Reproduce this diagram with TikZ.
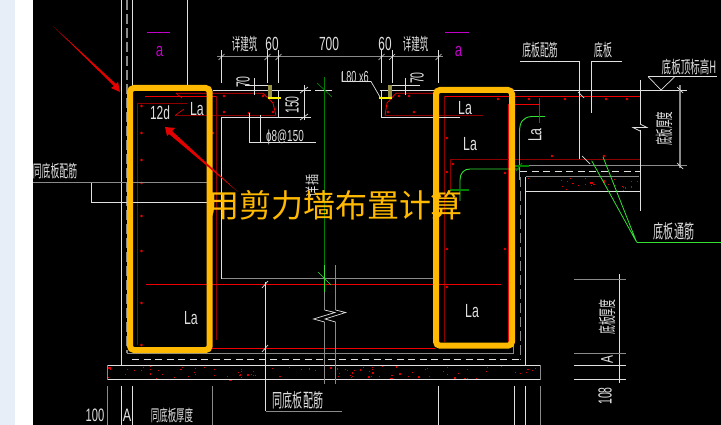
\documentclass[tikz,border=0pt]{standalone}
\usepackage{graphicx}
\usepackage{fontspec}
\setmainfont{Liberation Sans}
\newfontfamily\cjkf{Noto Sans CJK SC}
\newcommand{\nar}[2]{\scalebox{#1}[1]{#2}}
\newcommand{\fsz}[1]{\fontsize{#1}{#1}\selectfont}
\definecolor{wl}{HTML}{E0E0E0}
\definecolor{gl}{HTML}{8A8A8A}
\definecolor{dr}{HTML}{8E0000}
\definecolor{br}{HTML}{F00000}
\definecolor{dg}{HTML}{008000}
\definecolor{lg}{HTML}{33E033}
\definecolor{og}{HTML}{FFB900}
\definecolor{pale}{HTML}{E8EEF7}
\definecolor{mg}{HTML}{C000C8}
\tikzset{
  wline/.style={draw=wl,line width=.7pt},
  gline/.style={draw=gl,line width=1pt},
  dashw/.style={draw=wl,line width=.8pt,dash pattern=on 7pt off 4.5pt},
  dashg/.style={draw=gl,line width=1.1pt,dash pattern=on 10pt off 4pt},
  rline/.style={draw=br,line width=.8pt},
  drline/.style={draw=dr,line width=.9pt},
  grn/.style={draw=dg,line width=.9pt},
  lgrn/.style={draw=lg,line width=.8pt},
  lbl/.style={text=wl,inner sep=0pt,font=\cjkf\fsz{17}},
  lat/.style={text=wl,inner sep=0pt,font=\fsz{19}},
  rdot/.style={draw=br,line width=.5pt,fill=dr,radius=1.1pt},
  redarrow/.style={fill=red!90!black,draw=none}
}
\begin{document}
\begin{tikzpicture}[x=1pt,y=-1pt]
\useasboundingbox (0,0) rectangle (721,425);
\fill[white] (0,0) rectangle (721,425);
\fill[pale] (0,0) rectangle (15,425);
\fill[black] (33,0) rectangle (721,425);

% wall outlines, left
\draw[wline] (121.5,0) -- (121.5,365);
\draw[dashg] (127,0) -- (127,353);
\draw[wline] (132.5,0) -- (132.5,86);
\draw[wline] (187.5,0) -- (187.5,86);
\draw[draw=mg,line width=.8pt] (147,32.5) -- (170,32.5);
\draw[draw=mg,line width=.8pt] (445,32.5) -- (469,32.5);
\node[lat,text=mg] (amL) at (159.5,51) {\nar{.7}{a}};
\node[lat,text=mg] (amR) at (458.5,51) {\nar{.7}{a}};

% left reinforcement
\draw[rline] (145,96.5) -- (216,96.5);
\draw[rline] (176,93.3) -- (263,93.3) -- (273,103) -- (276,115.5);
\draw[drline] (216,96.5) -- (216,340);
\draw[drline] (187,103) -- (137.5,103) -- (137.5,345);
\draw[drline] (175,115.5) -- (276,115.5);
\draw[rline,line width=.6pt] (175,115.5) -- (184,109) (176,93.3) -- (182,98);
\foreach \py in {106,133,160,183,216,251,303,345} \draw[rdot] (141.5,\py) circle;
\foreach \px/\py in {224/96,263/96,224/112,249/113,273/112,213/133,213/170} \draw[rdot] (\px,\py) circle;

% right top bars
\draw[rline] (433,93.3) -- (396,93.3) -- (387,103) -- (385,115.5);
\draw[drline] (385,115.5) -- (483,115.5);
\draw[rline] (445,96.5) -- (640,96.5);
\draw[drline] (444,96.5) -- (444,342);
\draw[rline] (508.5,342) -- (508.5,104) -- (539,104);
\draw[drline] (450.7,190) -- (450.7,159.5) -- (640,159.5);
\foreach \px/\py in {498/99,529/99,565/99,606/99,627/99,552/156,604/156,453/164,447/138,447/172,447/249,447/287,505/173,505/249,399/96,388/112,414/112,409/96} \draw[rdot] (\px,\py) circle;

% inner outline
\draw[wline] (221.5,117) -- (221.5,278.7);
\draw[wline] (221.5,117) -- (278.3,117) -- (278.3,90);
\draw[wline] (460,117) -- (381.3,117) -- (381.3,90);
\draw[wline] (213,90) -- (311,90);
\draw[wline] (315,90) -- (332,90);
\draw[wline] (380,90) -- (687,90);
\draw[gline] (221.5,278.7) -- (433,278.7);
\draw[rline] (146,284.5) -- (501,284.5);
\draw[rline] (212,348) -- (435,348);
\draw[gline] (127,353.5) -- (513.5,353.5) -- (513.5,345);
\draw[dashw] (132,359.5) -- (520,359.5);
\draw[dashg,line width=.9pt] (520,177) -- (520,360);
\draw[wline] (525.5,177) -- (525.5,365);

% slab
\begin{scope}
\pgfmathsetseed{11}
\foreach \i in {1,...,95}{
  \pgfmathsetmacro\px{108+431*rnd}
  \pgfmathsetmacro\py{366+13*rnd}
  \pgfmathsetmacro\ps{.7+2*rnd*rnd}
  \fill[red!85!black] (\px,\py) rectangle ++(\ps,\ps);
}
\foreach \i in {1,...,24}{
  \pgfmathsetmacro\px{527+112*rnd}
  \pgfmathsetmacro\py{178+12*rnd}
  \pgfmathsetmacro\ps{.7+2*rnd*rnd}
  \fill[red!85!black] (\px,\py) rectangle ++(\ps,\ps);
}
\end{scope}
\draw[wline,line width=.9pt] (107,365) -- (540,365) (107,379.5) -- (540,379.5);
\draw[gline] (107,365) -- (107,379.5) (540,365) -- (540,379.5);
\draw[gline] (525.5,177) -- (639,177);
\draw[wline,line width=.9pt] (525.5,191) -- (640,191);
\draw[dashw] (520,171) -- (640,171);
\draw[gline] (517,166) -- (687,166);

% bottom verticals
\foreach \px/\cl in {107/gl,121.5/wl,132.5/wl,212/gl,438.5/wl,514.5/wl,525.5/wl,540/gl}
  \draw[draw=\cl,line width=.8pt] (\px,386) -- (\px,425);
\node[lat,font=\fsz{18}] (t100) at (95,415.5) {\nar{.62}{100}};
\node[lat,font=\fsz{18}] (tA) at (127,415.5) {\nar{.7}{A}};
\node[lbl,font=\cjkf\fsz{16}] (thick) at (172,415.5) {\nar{.53}{同底板厚度}};

% centre break
\draw[grn] (324.5,77) -- (324.5,265);
\draw[lgrn] (324.5,265) -- (324.5,292);
\draw[lgrn,line width=.7pt] (318,272) -- (331,285);
\draw[grn,line width=.7pt] (317,83) -- (332,97);
\draw[draw=gl,line width=.8pt] (324.5,292) -- (324.5,310) (324.5,322) -- (324.5,384);
\draw[draw=gl,line width=.8pt] (335.5,265) -- (335.5,310) (335.5,322) -- (335.5,384);
\draw[wline] (324.5,310) -- (335,312.5) -- (313.5,319) -- (324.5,322);
\draw[wline] (335.5,310) -- (345.7,312.5) -- (325,319) -- (335.5,322);

% dimensions top
\draw[gline] (217,57) -- (443,57);
\foreach \px in {221.5,267.5,278.5,381.5,392,438.5}{
  \draw[wline] (\px,50) -- (\px,83);
  \draw[wline] (\px-3,60) -- (\px+3,54);
}
\node[lbl] (xjz1) at (244.5,43.5) {\nar{.5}{详建筑}};
\node[lat] (d60a) at (272,44) {\nar{.62}{60}};
\node[lat] (d700) at (329,44) {\nar{.63}{700}};
\node[lat] (d60b) at (385,44) {\nar{.62}{60}};
\node[lbl] (xjz2) at (415.5,43.5) {\nar{.5}{详建筑}};

% small dims at angles
\draw[wline] (245,85.5) -- (270,85.5) (254.5,78) -- (254.5,95);
\draw[wline] (391,85.5) -- (420,85.5) (405.5,78) -- (405.5,95);
\node[lat,rotate=90] (d70a) at (243,82) {\nar{.55}{70}};
\node[lat,rotate=90] (d70b) at (417,78) {\nar{.55}{70}};
\draw[wline] (304,85) -- (304,120) (278,117) -- (311,117);
\draw[wline] (300,93) -- (308,87) (300,120) -- (308,114);
\node[lat,rotate=90] (d150) at (292,105) {\nar{.55}{150}};
\draw[wline] (249,113) -- (249,142) -- (316,142);
\draw[wline] (260.5,115.5) -- (260.5,142);
\node[lat,font=\fsz{16}] (phi8) at (285,137) {\nar{.62}{ɸ8@150}};
\node[lat,font=\fsz{16}] (l80) at (355,76.7) {\nar{.57}{L80 x6}};
\draw[wline] (342,72) -- (342,81.5) -- (371,81.5) -- (380,97);
\fill[yellow!55!black] (267.5,85) rectangle (271.5,97);
\draw[draw=yellow,line width=1.6pt] (268,98) -- (281,98);
\fill[yellow!55!black] (388,85) rectangle (392,97);
\draw[draw=yellow,line width=1.6pt] (392,98) -- (379,98);

% right annotations
\node[lbl] (t1) at (540,50) {\nar{.52}{底板配筋}};
\draw[wline] (520,61) -- (579.5,61) -- (579.5,159);
\node[lbl] (t2) at (603,50) {\nar{.53}{底板}};
\draw[wline] (622,61) -- (591.5,61) -- (591.5,113.5);
\node[lbl] (t3) at (689,67.5) {\nar{.56}{底板顶标高H}};
\draw[wline] (648,76.5) -- (717,76.5);
\draw[wline] (648,76.5) -- (661,90) -- (675,76.5);
\draw[wline] (640,80) -- (640,124) (640,130) -- (640,211);
\draw[wline] (640,124) -- (647,127.5) -- (633,127.5) -- (640,131);
\draw[gline,line width=1.2pt] (680,85) -- (680,168);
\draw[wline] (677,87) -- (683,93) (677,163) -- (683,169) (578,92) -- (584,98) (582,156) -- (590,164);
\node[lbl,rotate=90,font=\cjkf\fsz{18}] (t4) at (664,129) {\nar{.47}{底板厚度}};
\draw[lgrn,line width=.9pt] (519.5,180) -- (519.5,132) .. controls (519.5,122) and (523,117) .. (532,116.5) -- (545,116.5);
\draw[grn] (539,98) -- (539,123);
\draw[lgrn,line width=.9pt] (460,201) -- (460,180) .. controls (460,173) and (464,169) .. (470,169) -- (520,169);
\draw[grn,line width=1.2pt] (515,166) -- (529,166);
\draw[grn,line width=1.2pt] (450,190) -- (469,190);
\draw[grn] (516,171) -- (522,163);
\draw[lgrn] (591.7,160.7) -- (636.7,242.3) -- (603,157);
\draw[lgrn] (636.7,242.3) -- (721,242.3);
\node[lbl,font=\cjkf\fsz{19}] (t5) at (674,231) {\nar{.53}{底板通筋}};

% right dim column
\draw[wline] (619.5,274) -- (619.5,383);
\draw[gline] (574,279) -- (626,279) (574,353.5) -- (626,353.5);
\draw[wline] (574,365) -- (626,365) (574,379.5) -- (626,379.5);
\node[lbl,rotate=90,font=\cjkf\fsz{18}] (t6) at (607,317) {\nar{.49}{底板厚度}};
\node[lat,rotate=90,font=\fsz{17}] (t7) at (607,360) {\nar{.7}{A}};
\node[lat,rotate=90] (t8) at (605,396) {\nar{.55}{108}};

% left leader
\draw[gline] (33,183) -- (210,183);
\draw[wline] (91.5,183) -- (91.5,202) -- (212,202);
\node[lbl] (t9) at (55,171) {\nar{.52}{同底板配筋}};

% lower leader
\draw[wline] (265.5,282) -- (265.5,411);
\draw[gline] (265.5,411) -- (342,411);
\draw[wline] (262,288) -- (268,281) (262,352) -- (268,345);
\node[lbl,font=\cjkf\fsz{19}] (t10) at (298,400) {\nar{.53}{同底板配筋}};
\node[lbl,rotate=90,font=\cjkf\fsz{14}] (t11) at (312,186) {\nar{.8}{详插}};

% La labels
\node[lat] (la1) at (197,109) {\nar{.65}{La}};
\node[lat] (d12) at (160,113) {\nar{.63}{12d}};
\node[lat] (la2) at (191,318) {\nar{.65}{La}};
\node[lat] (la3) at (465,108) {\nar{.65}{La}};
\node[lat] (la4) at (470,144) {\nar{.65}{La}};
\node[lat] (la5) at (472,311) {\nar{.65}{La}};
\node[lat,rotate=90] (la6) at (535,135) {\nar{.65}{La}};

% highlight boxes
\draw[draw=og,line width=6pt,rounded corners=4pt] (130,88) rectangle (209.7,350);
\draw[draw=og,line width=6pt,rounded corners=4pt] (436,90) rectangle (512,345.7);

% red arrows
\fill[redarrow] (53,26) -- (116,84) -- (118,82) -- (120,92) -- (111,88) -- (114,86) -- cycle;
\fill[redarrow] (165,127) -- (175,128) -- (172,131) -- (238,192) -- (169,134) -- (167,136) -- cycle;

% caption
\node[text=og,inner sep=0pt,font=\cjkf\fsz{32}] (cap) at (335,205) {用剪力墙布置计算};
\end{tikzpicture}
\end{document}
